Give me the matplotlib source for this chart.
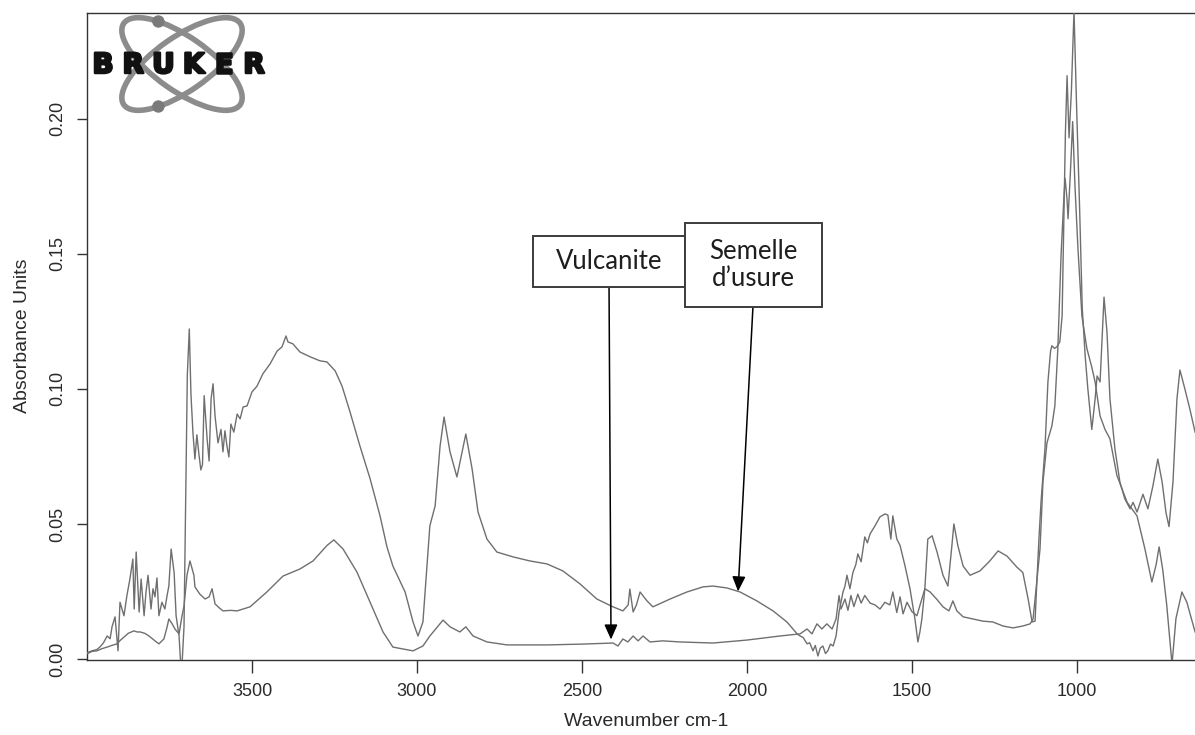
import matplotlib
matplotlib.use("Agg")
import matplotlib.pyplot as plt
from matplotlib.patches import Ellipse, Rectangle, Circle
import matplotlib.patheffects as pe
import numpy as np

plt.rcParams['font.family'] = ['Liberation Sans', 'DejaVu Sans']

# ---------------- data ----------------
semelle_wn = [3998, 3985, 3970, 3961, 3950, 3939, 3930, 3924, 3915, 3906, 3900, 3888, 3879, 3870,
              3861, 3857, 3851, 3842, 3836, 3827, 3821, 3815, 3806, 3800, 3794, 3788, 3782, 3773,
              3764, 3758, 3752, 3745, 3736, 3730, 3721, 3716, 3712, 3706, 3701, 3696, 3690, 3685,
              3679, 3673, 3667, 3661, 3655, 3650, 3645, 3636, 3630, 3624, 3618, 3612, 3603, 3594,
              3588, 3582, 3576, 3570, 3564, 3555, 3545, 3536, 3527, 3515, 3500, 3485, 3467, 3445,
              3424, 3409, 3397, 3391, 3376, 3355, 3324, 3294, 3273, 3248, 3227, 3203, 3173, 3142,
              3112, 3091, 3073, 3036, 3012, 2997, 2982, 2961, 2945, 2930, 2918, 2900, 2879, 2852,
              2833, 2815, 2788, 2758, 2709, 2658, 2606, 2558, 2506, 2455, 2406, 2376, 2360, 2355,
              2345, 2335, 2324, 2303, 2285, 2233, 2182, 2133, 2103, 2061, 2021, 1970, 1921, 1879,
              1848, 1839, 1830, 1818, 1810, 1800, 1793, 1785, 1778, 1770, 1762, 1755, 1747, 1739,
              1730, 1721, 1715, 1709, 1703, 1697, 1688, 1679, 1670, 1664, 1654, 1643, 1635, 1627,
              1612, 1597, 1582, 1573, 1564, 1558, 1546, 1536, 1521, 1506, 1491, 1482, 1476, 1470,
              1461, 1452, 1439, 1424, 1406, 1391, 1379, 1373, 1361, 1345, 1324, 1294, 1264, 1239,
              1212, 1182, 1164, 1148, 1136, 1127, 1121, 1115, 1109, 1097, 1088, 1080, 1076, 1068,
              1061, 1052, 1045, 1040, 1035, 1030, 1024, 1017, 1009, 1001, 992, 984, 975, 967,
              955, 945, 939, 930, 918, 909, 900, 885, 870, 855, 839, 830, 818, 800,
              785, 770, 755, 742, 730, 721, 709, 697, 688, 673, 658, 642]
semelle_abs = [0.0024, 0.0030, 0.0035, 0.0044, 0.0060, 0.0085, 0.0075, 0.0120, 0.0156, 0.0030, 0.0210, 0.0160, 0.0235, 0.0296,
               0.0370, 0.0185, 0.0396, 0.0174, 0.0296, 0.0160, 0.0250, 0.0310, 0.0185, 0.0260, 0.0230, 0.0300, 0.0160, 0.0210,
               0.0185, 0.0230, 0.0270, 0.0407, 0.0320, 0.0160, 0.0085, -0.0020, -0.0020, 0.0120, 0.0600, 0.1050, 0.1222, 0.0980,
               0.0840, 0.0740, 0.0830, 0.0760, 0.0700, 0.0720, 0.0975, 0.0815, 0.0733, 0.0963, 0.1019, 0.0900, 0.0800, 0.0850,
               0.0767, 0.0845, 0.0790, 0.0748, 0.0870, 0.0840, 0.0907, 0.0889, 0.0933, 0.0937, 0.0989, 0.1010, 0.1056, 0.1093,
               0.1140, 0.1156, 0.1196, 0.1174, 0.1167, 0.1137, 0.1119, 0.1104, 0.1100, 0.1067, 0.1010, 0.0915, 0.0789, 0.0667,
               0.0530, 0.0415, 0.0344, 0.0248, 0.0137, 0.0085, 0.0137, 0.0493, 0.0567, 0.0789, 0.0896, 0.0767, 0.0674, 0.0833,
               0.0704, 0.0544, 0.0444, 0.0396, 0.0378, 0.0363, 0.0352, 0.0326, 0.0278, 0.0222, 0.0193, 0.0178, 0.0200, 0.0259,
               0.0174, 0.0200, 0.0248, 0.0215, 0.0193, 0.0222, 0.0248, 0.0267, 0.0270, 0.0263, 0.0248, 0.0215, 0.0178, 0.0137,
               0.0093, 0.0085, 0.0080, 0.0056, 0.0060, 0.0030, 0.0050, 0.0011, 0.0040, 0.0048, 0.0020, 0.0030, 0.0055, 0.0048,
               0.0085, 0.0174, 0.0210, 0.0248, 0.0270, 0.0310, 0.0260, 0.0320, 0.0350, 0.0389, 0.0360, 0.0452, 0.0430, 0.0463,
               0.0493, 0.0526, 0.0537, 0.0533, 0.0444, 0.0530, 0.0444, 0.0420, 0.0344, 0.0260, 0.0148, 0.0063, 0.0100, 0.0148,
               0.0260, 0.0444, 0.0456, 0.0396, 0.0310, 0.0270, 0.0420, 0.0500, 0.0420, 0.0344, 0.0310, 0.0326, 0.0363, 0.0400,
               0.0381, 0.0340, 0.0320, 0.0222, 0.0137, 0.0140, 0.0300, 0.0450, 0.0580, 0.0778, 0.1026, 0.1140, 0.1160, 0.1150,
               0.1156, 0.1174, 0.1270, 0.1600, 0.1950, 0.2160, 0.1930, 0.2100, 0.2400, 0.2040, 0.1670, 0.1300, 0.1120, 0.1000,
               0.0850, 0.0963, 0.1048, 0.1026, 0.1340, 0.1210, 0.0963, 0.0778, 0.0656, 0.0593, 0.0556, 0.0580, 0.0544, 0.0610,
               0.0556, 0.0640, 0.0740, 0.0656, 0.0540, 0.0490, 0.0656, 0.0963, 0.1070, 0.1000, 0.0926, 0.0840]

vulcanite_wn = [3998, 3985, 3970, 3955, 3939, 3925, 3909, 3900, 3888, 3875, 3858, 3848, 3839, 3825,
                3812, 3794, 3782, 3767, 3757, 3752, 3742, 3733, 3721, 3712, 3706, 3697, 3688, 3676,
                3673, 3658, 3642, 3630, 3621, 3612, 3600, 3588, 3565, 3545, 3506, 3455, 3406, 3355,
                3315, 3273, 3252, 3224, 3182, 3142, 3103, 3073, 3042, 3012, 2982, 2961, 2936, 2921,
                2900, 2870, 2852, 2830, 2788, 2727, 2606, 2500, 2406, 2391, 2376, 2361, 2345, 2330,
                2315, 2294, 2255, 2203, 2103, 2000, 1900, 1870, 1839, 1818, 1803, 1788, 1773, 1758,
                1742, 1730, 1721, 1715, 1703, 1694, 1685, 1676, 1664, 1654, 1643, 1627, 1612, 1597,
                1582, 1567, 1558, 1546, 1536, 1527, 1515, 1500, 1485, 1473, 1461, 1445, 1424, 1406,
                1388, 1376, 1364, 1345, 1315, 1285, 1255, 1224, 1194, 1164, 1142, 1133, 1121, 1112,
                1103, 1091, 1076, 1067, 1058, 1048, 1040, 1036, 1030, 1027, 1020, 1013, 1006, 997,
                985, 970, 955, 945, 930, 915, 900, 879, 848, 818, 794, 773, 760, 751,
                740, 728, 712, 700, 682, 667, 642]
vulcanite_abs = [0.0020, 0.0028, 0.0030, 0.0038, 0.0044, 0.0050, 0.0056, 0.0068, 0.0081, 0.0095, 0.0104, 0.0100, 0.0100, 0.0095,
                 0.0085, 0.0067, 0.0056, 0.0074, 0.0120, 0.0148, 0.0130, 0.0110, 0.0093, 0.0160, 0.0196, 0.0310, 0.0363, 0.0310,
                 0.0267, 0.0240, 0.0222, 0.0230, 0.0260, 0.0204, 0.0190, 0.0178, 0.0180, 0.0178, 0.0193, 0.0248, 0.0307, 0.0333,
                 0.0363, 0.0420, 0.0441, 0.0407, 0.0322, 0.0210, 0.0100, 0.0044, 0.0037, 0.0030, 0.0048, 0.0085, 0.0122, 0.0144,
                 0.0119, 0.0100, 0.0119, 0.0085, 0.0063, 0.0052, 0.0052, 0.0055, 0.0059, 0.0048, 0.0074, 0.0063, 0.0085, 0.0067,
                 0.0085, 0.0063, 0.0067, 0.0063, 0.0059, 0.0070, 0.0085, 0.0089, 0.0093, 0.0111, 0.0093, 0.0130, 0.0111, 0.0130,
                 0.0111, 0.0148, 0.0235, 0.0185, 0.0222, 0.0180, 0.0235, 0.0194, 0.0240, 0.0207, 0.0235, 0.0207, 0.0200, 0.0185,
                 0.0210, 0.0200, 0.0248, 0.0172, 0.0230, 0.0167, 0.0210, 0.0175, 0.0160, 0.0210, 0.0260, 0.0248, 0.0220, 0.0193,
                 0.0178, 0.0215, 0.0178, 0.0156, 0.0148, 0.0140, 0.0137, 0.0122, 0.0115, 0.0122, 0.0130, 0.0148, 0.0296, 0.0407,
                 0.0656, 0.0800, 0.0863, 0.0937, 0.1148, 0.1500, 0.1700, 0.1780, 0.1700, 0.1630, 0.1800, 0.1990, 0.1750, 0.1520,
                 0.1270, 0.1150, 0.1080, 0.1026, 0.0900, 0.0850, 0.0815, 0.0680, 0.0580, 0.0530, 0.0407, 0.0285, 0.0350, 0.0415,
                 0.0330, 0.0200, -0.0020, 0.0150, 0.0248, 0.0210, 0.0100]

x_ticks = [3500, 3000, 2500, 2000, 1500, 1000]
x_tick_labels = ['3500', '3000', '2500', '2000', '1500', '1000']
y_ticks = [0.00, 0.05, 0.10, 0.15, 0.20]
y_tick_labels = ['0.00', '0.05', '0.10', '0.15', '0.20']

annot_labels = ['Vulcanite', 'Semelle\nd\u2019usure']
annot_box_x = [(2648, 2188), (2188, 1773)]        # left / right edge (cm-1)
annot_box_y = [(0.1376, 0.1565), (0.1302, 0.1613)]  # bottom / top (absorbance)
annot_tip = [(2412, 0.0072), (2027, 0.0250)]
annot_start = [(2418, 0.1376), (1982, 0.1302)]

# ---------------- figure ----------------
W, H = 1195, 735
fig = plt.figure(figsize=(W / 100, H / 100), dpi=100)
fig.patch.set_facecolor('white')
ax = fig.add_axes([87 / W, 1 - 659.5 / H, 1118 / W, (659.5 - 13.3) / H])

line_col = '#6f6f6f'
ax.plot(semelle_wn, semelle_abs, color=line_col, lw=1.0, zorder=3)
ax.plot(vulcanite_wn, vulcanite_abs, color=line_col, lw=1.0, zorder=3)

ax.set_xlim(4000, 612)
ax.set_ylim(-0.0002, 0.2391)

ax.set_xticks(x_ticks)
ax.set_xticklabels(x_tick_labels)
ax.set_yticks(y_ticks)
ax.set_yticklabels(y_tick_labels)
txt_col = '#2a2a2a'
ax.tick_params(axis='x', direction='out', length=9, width=1.0, pad=8, labelsize=13,
               colors='#333333', labelcolor=txt_col)
ax.tick_params(axis='y', direction='out', length=7.5, width=1.0, pad=7.5, labelsize=13,
               colors='#333333', labelcolor=txt_col)
for lab in ax.get_yticklabels():
    lab.set_rotation(90)
    lab.set_verticalalignment('center')

for s in ax.spines.values():
    s.set_color('#333333')
    s.set_linewidth(1.0)

ax.set_xlabel('Wavenumber cm-1', fontsize=14, color=txt_col)
ax.xaxis.set_label_coords((646 - 87) / 1118, -(712.5 - 659.5) / (659.5 - 13.3))
ax.set_ylabel('Absorbance Units', fontsize=14, color=txt_col)
ax.yaxis.set_label_coords(-(87 - 31) / 1118, (659.5 - 336) / (659.5 - 13.3))

# annotation boxes + arrows
for i, lab in enumerate(annot_labels):
    x0, x1 = annot_box_x[i]
    y0, y1 = annot_box_y[i]
    rect = Rectangle((x1, y0), x0 - x1, y1 - y0, facecolor='white', edgecolor='#3c3c3c',
                     lw=1.4, zorder=5 + 2 * i)
    ax.add_patch(rect)
    ax.text((x0 + x1) / 2, (y0 + y1) / 2, lab, ha='center', va='center', fontsize=18.5,
            family=['Lato', 'DejaVu Sans'], color='#1e1e1e', linespacing=1.1,
            zorder=6 + 2 * i)
    ax.annotate('', xy=annot_tip[i], xytext=annot_start[i],
                arrowprops=dict(arrowstyle='-|>,head_length=0.45,head_width=0.2',
                                mutation_scale=20, color='black', lw=1.1,
                                shrinkA=0, shrinkB=0), zorder=4)

# ---------------- Bruker logo ----------------
lax = fig.add_axes([88 / W, 1 - 118 / H, 184 / W, 104 / H])
lax.set_xlim(88, 272)
lax.set_ylim(118, 14)
lax.axis('off')
cx, cy, a, b = 182, 64, 71, 27
ring_col = '#8c8c8c'
for ang, t in [(35, 232), (-35, 128)]:
    lax.add_patch(Ellipse((cx, cy), 2 * a, 2 * b, angle=ang, fill=False,
                          edgecolor=ring_col, lw=4.0))
    th, tt = np.radians(ang), np.radians(t)
    px = cx + a * np.cos(tt) * np.cos(th) - b * np.sin(tt) * np.sin(th)
    py = cy + a * np.cos(tt) * np.sin(th) + b * np.sin(tt) * np.cos(th)
    lax.add_patch(Circle((px, py), 5.5, color='#7a7a7a'))
for k, ch in enumerate('BRUKER'):
    lax.text(103 + 30.2 * k, 65, ch, ha='center', va='center', fontsize=20,
             family='DejaVu Sans', weight='bold', color='#111111',
             path_effects=[pe.withStroke(linewidth=1.8, foreground='#111111')])

fig.savefig('out.png', dpi=100, facecolor='white')
